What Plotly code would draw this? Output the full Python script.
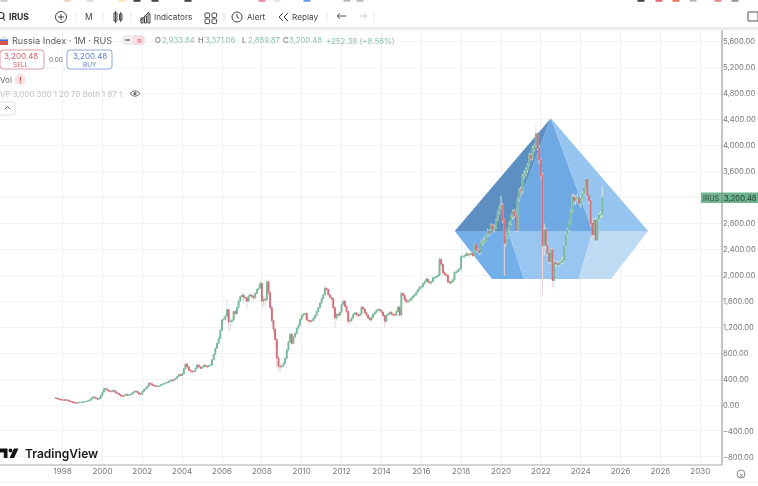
import plotly.graph_objects as go

W, H_PX = 758, 486
START_YEAR = 1997 + 8 / 12

opens = [
 110,105,95,90,
 80,78,75,80,72,60,50,45,36,30,32,38,
 42,46,50,55,62,75,95,125,115,100,90,105,
 150,200,255,245,225,215,205,225,215,185,180,160,
 140,135,150,165,150,155,165,190,205,215,190,170,
 165,210,240,255,290,340,325,305,295,290,285,295,
 310,320,330,340,350,365,385,375,395,410,440,470,
 455,480,560,632,590,540,525,513,520,565,616,590,
 565,585,616,600,590,610,616,697,780,875,950,1030,
 1150,1310,1320,1370,1470,1280,1290,1310,1440,1410,1500,1600,
 1670,1695,1660,1650,1600,1680,1695,1670,1650,1720,1780,1800,
 1875,1600,1630,1620,1900,1730,1500,1300,1170,1010,725,600,
 590,600,640,720,850,970,1090,950,1050,1100,1180,1230,
 1320,1385,1400,1410,1310,1300,1290,1300,1340,1380,1440,1500,
 1570,1640,1700,1800,1780,1700,1660,1640,1500,1340,1400,1385,
 1430,1550,1600,1520,1440,1290,1300,1340,1400,1420,1390,1380,
 1400,1510,1480,1420,1385,1340,1310,1350,1400,1430,1460,1470,
 1460,1430,1380,1290,1385,1400,1430,1400,1390,1385,1440,1510,
 1385,1720,1690,1620,1590,1600,1620,1650,1680,1700,1740,1780,
 1820,1820,1870,1900,1940,1900,1880,1900,1960,1960,1980,2000,
 2245,2170,2040,2010,2000,1900,1880,1900,1930,2040,2050,2080,
 2095,2285,2290,2300,2330,2310,2320,2340,2300,2475,2390,2385,
 2350,2500,2520,2540,2620,2680,2640,2770,2710,2735,2850,2950,
 3050,3075,2850,2490,2600,2700,2800,2900,2980,2920,2690,3180,
 3310,3300,3520,3560,3620,3700,3850,3800,3950,4000,4180,3960,
 3780,3540,2460,2700,2460,2340,2210,2390,1920,2200,2180,2160,
 2190,2200,2230,2450,2620,2700,2800,2980,3200,3150,3190,3190,
 3110,3180,3260,3350,3480,3230,3150,2800,2620,2850,2540,2860,
 2930,2933.84,
]
closes = [
 105,95,90,80,
 78,75,80,72,60,50,45,36,30,32,38,42,
 46,50,55,62,75,95,125,115,100,90,105,150,
 200,255,245,225,215,205,225,215,185,180,160,140,
 135,150,165,150,155,165,190,205,215,190,170,165,
 210,240,255,290,340,325,305,295,290,285,295,310,
 320,330,340,350,365,385,375,395,410,440,470,455,
 480,560,632,590,540,525,513,520,565,616,590,565,
 585,616,600,590,610,616,697,780,875,950,1030,1150,
 1310,1320,1370,1470,1280,1290,1310,1440,1410,1500,1600,1670,
 1695,1660,1650,1600,1680,1695,1670,1650,1720,1780,1800,1875,
 1600,1630,1620,1900,1730,1500,1300,1170,1010,725,600,590,
 600,640,720,850,970,1090,950,1050,1100,1180,1230,1320,
 1385,1400,1410,1310,1300,1290,1300,1340,1380,1440,1500,1570,
 1640,1700,1800,1780,1700,1660,1640,1500,1340,1400,1385,1430,
 1550,1600,1520,1440,1290,1300,1340,1400,1420,1390,1380,1400,
 1510,1480,1420,1385,1340,1310,1350,1400,1430,1460,1470,1460,
 1430,1380,1290,1385,1400,1430,1400,1390,1385,1440,1510,1385,
 1720,1690,1620,1590,1600,1620,1650,1680,1700,1740,1780,1820,
 1820,1870,1900,1940,1900,1880,1900,1960,1960,1980,2000,2245,
 2170,2040,2010,2000,1900,1880,1900,1930,2040,2050,2080,2095,
 2285,2290,2300,2330,2310,2320,2340,2300,2475,2390,2385,2350,
 2500,2520,2540,2620,2680,2640,2770,2710,2735,2850,2950,3050,
 3075,2850,2490,2600,2700,2800,2900,2980,2920,2690,3180,3310,
 3300,3520,3560,3620,3700,3850,3800,3950,4000,4180,3960,3780,
 3540,2460,2700,2460,2340,2210,2390,1920,2200,2180,2160,2190,
 2200,2230,2450,2620,2700,2800,2980,3200,3150,3190,3190,3110,
 3180,3260,3350,3480,3230,3150,2800,2620,2850,2540,2860,2930,
 2933.84,3200.48,
]
highs = [
 115,108,98,92,
 84,82,84,82,74,62,52,46,38,36,40,44,
 48,52,58,66,80,100,130,128,118,102,110,158,
 210,268,262,250,230,220,232,228,218,190,184,165,
 145,155,172,168,160,172,195,212,225,220,195,175,
 216,246,262,298,352,345,330,310,300,296,300,316,
 326,336,346,358,372,392,390,402,418,448,482,478,
 490,575,650,640,595,548,532,530,572,630,625,598,
 595,628,625,606,618,626,705,790,885,962,1050,1170,
 1340,1370,1400,1640,1490,1340,1340,1460,1470,1530,1620,1690,
 1750,1730,1700,1670,1700,1740,1710,1700,1740,1800,1860,1930,
 1950,1680,1670,1920,1930,1760,1530,1330,1190,1040,760,650,
 640,670,750,880,1000,1120,1110,1080,1130,1210,1260,1350,
 1420,1430,1440,1430,1330,1320,1320,1360,1400,1460,1520,1590,
 1660,1720,1840,1820,1790,1710,1680,1650,1520,1420,1430,1460,
 1580,1640,1620,1540,1460,1340,1360,1420,1440,1430,1410,1420,
 1540,1530,1490,1440,1400,1360,1380,1420,1450,1490,1490,1490,
 1470,1440,1390,1400,1430,1450,1450,1410,1410,1460,1530,1530,
 1760,1740,1720,1640,1640,1660,1680,1700,1720,1770,1800,1840,
 1860,1890,1930,1970,1950,1910,1930,1990,1990,2010,2030,2290,
 2260,2180,2070,2040,2010,1930,1920,1960,2070,2080,2110,2130,
 2320,2340,2330,2390,2360,2350,2370,2350,2490,2480,2420,2400,
 2530,2560,2600,2640,2720,2710,2800,2790,2780,2870,2980,3080,
 3220,3110,2870,2630,2720,2830,2930,3010,3020,2940,3200,3340,
 3370,3560,3620,3660,3730,3880,3880,3990,4030,4300,4200,4000,
 3810,3580,2800,2740,2500,2380,2420,2410,2230,2230,2220,2220,
 2230,2290,2470,2650,2730,2830,3010,3250,3260,3230,3260,3200,
 3210,3290,3380,3500,3500,3250,3170,2860,2880,2890,2880,2960,
 2990,3371.06,
]
lows = [
 100,90,85,75,
 72,70,72,68,56,46,40,30,26,26,30,36,
 40,44,48,52,60,72,92,110,96,85,86,100,
 145,190,235,220,205,195,200,208,180,172,155,135,
 128,130,145,145,145,150,160,185,200,185,165,158,
 160,200,232,250,285,320,300,285,282,278,280,290,
 305,315,325,335,345,360,368,370,390,405,435,445,
 445,470,550,575,520,500,500,505,510,555,580,555,
 555,575,585,570,580,600,610,690,770,870,940,1020,
 1140,1290,1290,1350,1150,1130,1220,1280,1340,1380,1480,1590,
 1620,1560,1590,1470,1570,1640,1630,1600,1620,1700,1760,1790,
 1500,1510,1510,1590,1690,1450,1250,1100,900,560,520,500,
 560,580,620,700,820,950,930,930,1030,1080,1160,1210,
 1300,1340,1370,1290,1250,1230,1260,1280,1320,1360,1420,1480,
 1550,1620,1680,1740,1680,1620,1600,1450,1200,1290,1330,1350,
 1410,1520,1500,1400,1240,1240,1280,1320,1380,1360,1340,1360,
 1380,1450,1400,1360,1320,1290,1290,1330,1380,1410,1440,1440,
 1410,1350,1190,1270,1370,1380,1380,1350,1360,1350,1430,1350,
 1340,1650,1570,1560,1560,1570,1600,1610,1650,1680,1720,1760,
 1770,1790,1850,1880,1870,1850,1850,1890,1920,1940,1960,1980,
 2130,1990,1990,1970,1870,1850,1850,1880,1910,2020,2030,2060,
 2080,2250,2250,2260,2290,2260,2290,2280,2280,2360,2350,2310,
 2320,2460,2490,2520,2590,2600,2620,2690,2660,2710,2830,2930,
 3020,2800,1990,2440,2560,2670,2770,2860,2880,2660,2660,3140,
 3220,3260,3480,3520,3580,3680,3760,3770,3900,3970,3920,3720,
 3480,1695,2300,2400,2300,2180,2180,1823,1780,2120,2130,2130,
 2160,2170,2210,2420,2590,2670,2780,2960,3090,3080,3120,3080,
 3040,3150,3230,3330,3200,3100,2750,2580,2600,2500,2450,2830,
 2880,2889.87,
]

x_tick_years = list(range(1998, 2031, 2))
y_tick_values = [5600,5200,4800,4400,4000,3600,3200,2800,2400,2000,1600,1200,800,400,0,-400,-800]
y_tick_labels = ["5,600.00","5,200.00","4,800.00","4,400.00","4,000.00","3,600.00","3,200.00","2,800.00",
                 "2,400.00","2,000.00","1,600.00","1,200.00","800.00","400.00","0.00","\u2212400.00","\u2212800.00"]
last_price = 3200.48

# Diamond drawing anchors, in chart coordinates
apex = (2022.5, 4420)
girdle_y = 2680
base_y = 1940
girdle_x = [2017.68, 2020.35, 2024.6, 2027.38]
base_x = [2019.55, 2021.15, 2023.9, 2025.52]
facet_colors = ["#5e8fc2", "#6ea9e4", "#96c5f0", "#74aee9", "#98c6f1", "#bfdbf3"]

x_months = [START_YEAR + i / 12 for i in range(len(closes))]
GREEN, RED = "#77b899", "#d26c77"
PALE_GREEN, PALE_RED = "#d4e9de", "#f1d5d8"

fig = go.Figure()
fig.add_trace(go.Candlestick(
    x=x_months, open=opens, high=highs, low=lows, close=closes, whiskerwidth=0,
    increasing=dict(line=dict(color=PALE_GREEN, width=1), fillcolor=PALE_GREEN),
    decreasing=dict(line=dict(color=PALE_RED, width=1), fillcolor=PALE_RED),
    showlegend=False, hoverinfo="skip"))
fig.add_trace(go.Candlestick(
    x=x_months, open=opens, close=closes,
    high=[max(a, b) for a, b in zip(opens, closes)],
    low=[min(a, b) for a, b in zip(opens, closes)], whiskerwidth=0,
    increasing=dict(line=dict(color=GREEN, width=1), fillcolor=GREEN),
    decreasing=dict(line=dict(color=RED, width=1), fillcolor=RED),
    showlegend=False, hoverinfo="skip"))


def fx(x):
    return x / W


def fy(y):
    return 1 - y / H_PX


shapes, notes = [], []


def facet(points, color):
    path = "M " + " L ".join(f"{a},{b}" for a, b in points) + " Z"
    shapes.append(dict(type="path", path=path, xref="x", yref="y", layer="between",
                       fillcolor=color, line=dict(width=0)))


def rect(x0, y0, x1, y1, fill="rgba(0,0,0,0)", line=None, lw=1, radius=0):
    if radius:
        r = radius
        path = (f"M {fx(x0+r)},{fy(y0)} L {fx(x1-r)},{fy(y0)} Q {fx(x1)},{fy(y0)} {fx(x1)},{fy(y0+r)} "
                f"L {fx(x1)},{fy(y1-r)} Q {fx(x1)},{fy(y1)} {fx(x1-r)},{fy(y1)} L {fx(x0+r)},{fy(y1)} "
                f"Q {fx(x0)},{fy(y1)} {fx(x0)},{fy(y1-r)} L {fx(x0)},{fy(y0+r)} Q {fx(x0)},{fy(y0)} {fx(x0+r)},{fy(y0)} Z")
        shapes.append(dict(type="path", path=path, xref="paper", yref="paper", fillcolor=fill,
                           line=dict(color=line or "rgba(0,0,0,0)", width=lw if line else 0)))
    else:
        shapes.append(dict(type="rect", xref="paper", yref="paper", x0=fx(x0), x1=fx(x1), y0=fy(y0), y1=fy(y1),
                           fillcolor=fill, line=dict(color=line or "rgba(0,0,0,0)", width=lw if line else 0)))


def seg(x0, y0, x1, y1, color="#555", lw=1, dash=None):
    shapes.append(dict(type="line", xref="paper", yref="paper", x0=fx(x0), x1=fx(x1), y0=fy(y0), y1=fy(y1),
                       line=dict(color=color, width=lw, dash=dash or "solid")))


def circle(cx, cy, r, fill="rgba(0,0,0,0)", line=None, lw=1):
    shapes.append(dict(type="circle", xref="paper", yref="paper", x0=fx(cx-r), x1=fx(cx+r), y0=fy(cy-r), y1=fy(cy+r),
                       fillcolor=fill, line=dict(color=line or "rgba(0,0,0,0)", width=lw if line else 0)))


def label(x, y, text, size=9, color="#555", anchor="left", family="Inter"):
    notes.append(dict(x=fx(x), y=fy(y), xref="paper", yref="paper", text=text, showarrow=False,
                      xanchor=anchor, yanchor="middle", font=dict(size=size, color=color, family=family),
                      borderpad=0, borderwidth=0, xshift=0, yshift=0))


# price line sits under the diamond
shapes.append(dict(type="line", xref="paper", yref="y", x0=0, x1=722/758, y0=last_price, y1=last_price, layer="between",
                   line=dict(color="#bcdccb", width=1, dash="dot")))
# diamond facets
facet([(girdle_x[0], girdle_y), apex, (girdle_x[1], girdle_y)], facet_colors[0])
facet([(girdle_x[1], girdle_y), apex, (girdle_x[2], girdle_y)], facet_colors[1])
facet([(girdle_x[2], girdle_y), apex, (girdle_x[3], girdle_y)], facet_colors[2])
facet([(girdle_x[0], girdle_y), (girdle_x[1], girdle_y), (base_x[1], base_y), (base_x[0], base_y)], facet_colors[3])
facet([(girdle_x[1], girdle_y), (girdle_x[2], girdle_y), (base_x[2], base_y), (base_x[1], base_y)], facet_colors[4])
facet([(girdle_x[2], girdle_y), (girdle_x[3], girdle_y), (base_x[3], base_y), (base_x[2], base_y)], facet_colors[5])

# header band
rect(0, 0, 758, 30, fill="#ffffff")
rect(0, 27, 758, 30, fill="#ececec")
for cx, c in [(4, "#cccccc"), (67, "#eed6c0"), (90, "#dddddd"), (122, "#f8e8b8"), (137, "#444444"), (155, "#444444"),
              (188, "#444444"), (262, "#e58aa0"), (277, "#e3e6ef"), (307, "#6a9ce6"), (347, "#bbbbbb"), (360, "#bbbbbb"),
              (641, "#444444"), (659, "#dd7070"), (676, "#e67a58"), (693, "#bbbbbb"), (718, "#e58a8a"), (735, "#999999")]:
    rect(cx-3.5, 0, cx+3.5, 1.8, fill=c)

# toolbar
circle(1, 15.5, 3, line="#333", lw=1.2)
seg(3, 18, 5, 20.5, "#333", 1.2)
label(9, 17, "<b>IRUS</b>", 8.6, "#2a2a2a")
circle(61, 17, 5.5, line="#444", lw=1)
seg(58, 17, 64, 17, "#444")
seg(61, 14, 61, 20, "#444")
label(89, 17, "M", 8.4, "#444", "center")
rect(114, 13, 117, 21, line="#444")
seg(115.5, 11, 115.5, 23, "#444")
rect(119.5, 14, 122, 20, line="#444")
seg(120.7, 12, 120.7, 22, "#444")
seg(140, 21, 149, 12, "#444")
for bx, bt in [(141, 18), (144.5, 16), (148, 14)]:
    rect(bx, bt, bx+2, 23, line="#444")
label(154, 17, "Indicators", 8.2, "#444")
for gx, gy in [(205, 13), (212, 13), (205, 19), (212, 19)]:
    rect(gx, gy, gx+4.6, gy+4.6, line="#444", radius=1)
seg(225, 13, 225, 21, "#e3e3e3")
circle(237, 17, 5, line="#444")
seg(237, 14, 237, 17, "#444")
seg(237, 17, 239, 18.5, "#444")
label(247, 17, "Alert", 8.2, "#444")
seg(283, 13, 279, 17, "#444"); seg(279, 17, 283, 21, "#444")
seg(288, 13, 284, 17, "#444"); seg(284, 17, 288, 21, "#444")
label(292, 17, "Replay", 8.2, "#444")
seg(337, 16, 346, 16, "#555"); seg(337, 16, 340, 13.5, "#555"); seg(337, 16, 340, 18.5, "#555")
seg(360, 16, 367, 16, "#c9c9c9"); seg(367, 16, 364, 13.5, "#c9c9c9"); seg(367, 16, 364, 18.5, "#c9c9c9")
rect(748, 12, 758, 21, line="#555")
for vx in [76, 103, 131, 223, 327, 374]:
    seg(vx, 12, vx, 22, "#e8e8e8")

# symbol legend
circle(4, 40.5, 4.5, fill="#e9e9ef")
rect(0, 41, 8, 45, fill="#d9534f")
rect(0, 39.5, 8, 41, fill="#3f6fd1")
label(12, 40.5, "Russia Index \u00b7 1M \u00b7 RUS", 9.1, "#5d5d5d")
rect(122, 35, 145, 45, fill="#f1edef", radius=5)
rect(133, 35, 145, 45, fill="#fadde3", radius=4)
seg(125, 40, 130, 40, "#777", 1.5)
label(139, 40, "\u2248", 8, "#d0626e", "center")
OHLC = "#8cc4a5"
label(155, 40.5, "O", 7.7, "#666"); label(162, 40.5, "2,933.84", 7.7, OHLC)
label(198, 40.5, "H", 7.7, "#666"); label(205, 40.5, "3,371.06", 7.7, OHLC)
label(242, 40.5, "L", 7.7, "#666"); label(248, 40.5, "2,889.87", 7.7, OHLC)
label(283, 40.5, "C", 7.7, "#666"); label(289, 40.5, "3,200.48", 7.7, OHLC)
label(326, 40.5, "+252.38 (+8.56%)", 7.9, OHLC)

rect(0, 50, 44, 69, fill="#ffffff", line="#dd9a9f", radius=3)
label(21, 56, "3,200.48", 8, "#cf5f69", "center")
label(21, 64.5, "SELL", 6.5, "#cf5f69", "center")
label(56, 60, "0.00", 6.5, "#666", "center")
rect(67, 50, 112, 69, fill="#ffffff", line="#8fa6e0", radius=3)
label(89.5, 56, "3,200.48", 8, "#5d7ed6", "center")
label(89.5, 64.5, "BUY", 6.5, "#5d7ed6", "center")

label(0, 79.5, "Vol", 8, "#666")
circle(20, 79.5, 5.5, fill="#fbe3e3")
label(20, 79.5, "<b>!</b>", 8, "#d9534f", "center")
label(0, 93.5, "VP 3,000 300 1 20 70 Both 1 87 1", 7.9, "#c2c2c2")
shapes.append(dict(type="path", xref="paper", yref="paper",
                   path=f"M {fx(130)},{fy(93.5)} Q {fx(135)},{fy(88)} {fx(140)},{fy(93.5)} Q {fx(135)},{fy(99)} {fx(130)},{fy(93.5)} Z",
                   line=dict(color="#666", width=1), fillcolor="rgba(0,0,0,0)"))
circle(135, 93.5, 1.6, fill="#666")
rect(-3, 102, 15, 115, fill="#ffffff", line="#dedede", radius=2)
seg(5, 109, 7.5, 106.5, "#555"); seg(7.5, 106.5, 10, 109, "#555")

# TradingView logo
shapes.append(dict(type="path", xref="paper", yref="paper", fillcolor="#111111", line=dict(width=0),
                   path=f"M {fx(0)},{fy(448.5)} L {fx(7.5)},{fy(448.5)} L {fx(7.5)},{fy(458)} L {fx(3.8)},{fy(458)} L {fx(3.8)},{fy(452.5)} L {fx(0)},{fy(452.5)} Z"))
shapes.append(dict(type="path", xref="paper", yref="paper", fillcolor="#111111", line=dict(width=0),
                   path=f"M {fx(14)},{fy(448.5)} L {fx(18.5)},{fy(448.5)} L {fx(14)},{fy(458)} L {fx(9.5)},{fy(458)} Z"))
circle(10.5, 450.5, 1.9, fill="#111111")
notes.append(dict(x=fx(22.5), y=fy(453), xref="paper", yref="paper", text="TradingView", showarrow=False,
                  xanchor="left", yanchor="middle", font=dict(size=12, color="#1a1a1a", family="Inter", weight=600)))

# price tag
rect(701, 192.5, 722, 203, fill="#74b593")
rect(722, 192.5, 758, 203, fill="#6db390")
label(711.5, 198, "IRUS", 7, "#2c4a3a", "center")
label(740, 198, "3,200.48", 7.6, "#1f3a2c", "center")

# axis lines and corner controls
seg(722, 30, 722, 465, "#8a8a8a", 1)
seg(0, 465, 722, 465, "#a9a9a9", 1)
seg(0, 482, 758, 482, "#f0f0f0", 1)
circle(741, 474, 4, line="#888")
label(741, 474, "\u00d7", 7, "#777", "center")

fig.update_layout(
    width=W, height=H_PX, margin=dict(l=0, r=0, t=0, b=0), paper_bgcolor="#ffffff", plot_bgcolor="#ffffff",
    showlegend=False, shapes=shapes, annotations=notes,
    xaxis=dict(domain=[0, 722 / W], range=[1994.86, 2031.09], type="linear", tickvals=x_tick_years,
               ticktext=[str(v) for v in x_tick_years], showgrid=True, gridcolor="#eff2f5", gridwidth=1,
               zeroline=False, showline=False, ticks="", rangeslider=dict(visible=False),
               tickfont=dict(family="Inter", size=8, color="#777777")),
    yaxis=dict(domain=[fy(465), fy(30)], range=[-924, 5778], side="right", tickvals=y_tick_values,
               ticktext=y_tick_labels, showgrid=True, gridcolor="#f2f4f6", gridwidth=1, zeroline=False,
               showline=False, ticks="", tickfont=dict(family="Inter", size=7.6, color="#777777")),
)
fig.write_html("out.html",
               post_script="document.body.style.margin='0';document.body.style.overflow='hidden';"
                           "document.querySelector('.plot-container').style.filter='blur(0.4px)';",
               config=dict(displayModeBar=False))
